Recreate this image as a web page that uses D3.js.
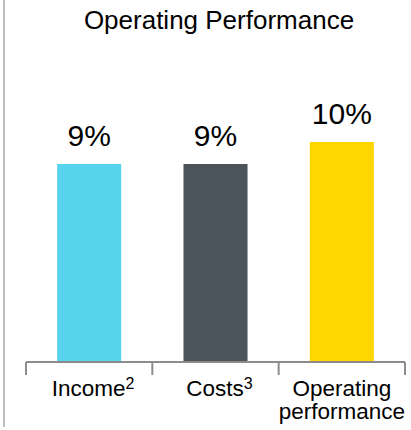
<!DOCTYPE html>
<html>
<head>
<meta charset="utf-8">
<script src="https://cdn.jsdelivr.net/npm/d3@7"></script>
<style>
  html, body { margin: 0; padding: 0; background: #fff; }
  svg { display: block; font-family: "Liberation Sans", Arial, sans-serif; }
</style>
</head>
<body>
<svg id="chart" width="411" height="430"></svg>
<script>
// Category names (line parts) and superscript footnote markers
const categories = ["Income", "Costs", "Operating performance"];
const labelLines = [["Income"], ["Costs"], ["Operating", "performance"]];
const footnotes = ["2", "3", ""];
// Change in percent for each category
const values = [9, 9, 10];
const valueLabels = ["9%", "9%", "10%"];
const colors = ["#57d3ee", "#4b535b", "#fed700"];
const title = "Operating Performance";

const svg = d3.select("#chart");

// Left divider rule
svg.append("line")
  .attr("x1", 4).attr("x2", 4)
  .attr("y1", 0).attr("y2", 427)
  .attr("stroke", "#c0c0c0").attr("stroke-width", 2);

// Title
svg.append("text")
  .attr("x", 219).attr("y", 29)
  .attr("text-anchor", "middle")
  .attr("font-size", 26)
  .attr("fill", "#000")
  .text(title);

const x = d3.scaleBand().domain(categories).range([26, 405]).padding(0);
const y = d3.scaleLinear().domain([0, 10]).range([362, 142]);
const barW = x.bandwidth() * 0.507;

// Bars
svg.append("g").selectAll("rect")
  .data(categories)
  .join("rect")
  .attr("x", d => x(d) + (x.bandwidth() - barW) / 2)
  .attr("width", barW)
  .attr("y", (d, i) => y(values[i]))
  .attr("height", (d, i) => y(0) - y(values[i]))
  .attr("fill", (d, i) => colors[i]);

// Value labels
svg.append("g").selectAll("text")
  .data(categories)
  .join("text")
  .attr("x", d => x(d) + x.bandwidth() / 2)
  .attr("y", (d, i) => y(values[i]) - 18)
  .attr("text-anchor", "middle")
  .attr("font-size", 30)
  .attr("fill", "#000")
  .text((d, i) => valueLabels[i]);

// Category axis: baseline with tick marks at band edges
const axis = svg.append("g").attr("stroke", "#8c8c8c").attr("stroke-width", 2);
axis.append("line")
  .attr("x1", x.range()[0]).attr("x2", x.range()[1])
  .attr("y1", y(0)).attr("y2", y(0));
const edges = categories.map(d => x(d)).concat([x.range()[1]]);
axis.selectAll("line.tick")
  .data(edges)
  .join("line")
  .attr("class", "tick")
  .attr("x1", d => d).attr("x2", d => d)
  .attr("y1", y(0)).attr("y2", y(0) + 13);

// Category labels with superscripts; each line is its own text element
const labels = svg.append("g");
categories.forEach((d, i) => {
  labelLines[i].forEach((line, j) => {
    const t = labels.append("text")
      .attr("x", x(d) + x.bandwidth() / 2 + (footnotes[i] ? 4 : 0))
      .attr("y", 396 + j * 23)
      .attr("text-anchor", "middle")
      .attr("font-size", 22.5)
      .attr("fill", "#000");
    t.append("tspan").text(line);
    if (j === labelLines[i].length - 1 && footnotes[i]) {
      t.append("tspan")
        .attr("font-size", 16)
        .attr("dy", -7)
        .text(footnotes[i]);
    }
  });
});
</script>
</body>
</html>
